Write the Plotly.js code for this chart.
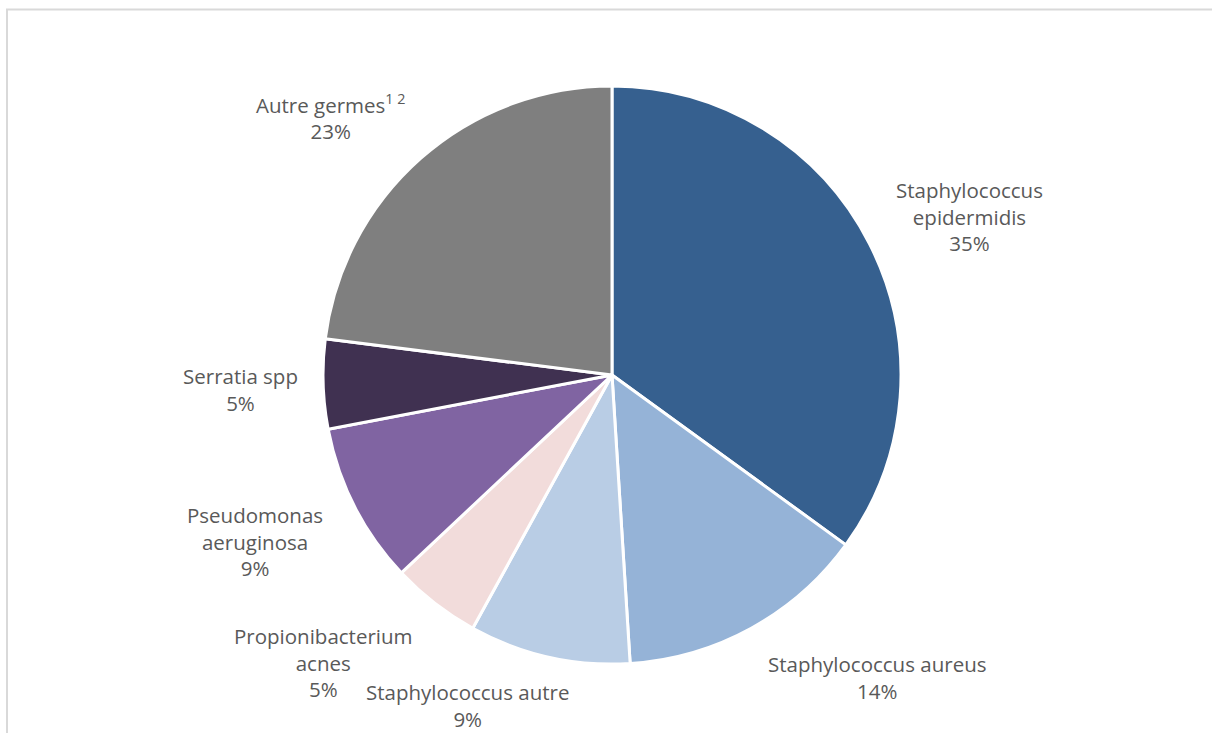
<!DOCTYPE html>
<html>
<head>
<meta charset="utf-8">
<script src="https://cdn.plot.ly/plotly-3.0.1.min.js"></script>
<style>html,body{margin:0;padding:0;background:#fff;}#chart{width:1212px;height:733px;}</style>
</head>
<body>
<div id="chart"></div>
<script>
// ---- data ----
var categories = [
  "Staphylococcus<br>epidermidis",
  "Staphylococcus aureus",
  "Staphylococcus autre",
  "Propionibacterium<br>acnes",
  "Pseudomonas<br>aeruginosa",
  "Serratia spp",
  "Autre germes<sup>1 2</sup>"
];
var values = [35, 14, 9, 5, 9, 5, 23];
var colors = ["#36608F", "#95B3D7", "#B9CDE5", "#F2DCDB", "#8064A2", "#403151", "#7F7F7F"];

// ---- layout helpers ----
var W = 1212, H = 733;
function px(x) { return x / W; }
function py(y) { return 1 - y / H; }

// label centres (pixels), one per category
var labelPos = [
  [969, 217], [877, 677], [467, 705], [323, 662], [255, 541], [240, 389], [330, 117]
];

var total = values.reduce(function (a, b) { return a + b; }, 0);
var annotations = categories.map(function (c, i) {
  return {
    xref: "paper", yref: "paper",
    x: px(labelPos[i][0]), y: py(labelPos[i][1]),
    xanchor: "center", yanchor: "middle",
    text: c + "<br>" + Math.round(values[i] / total * 100) + "%",
    showarrow: false,
    align: "center",
    font: { family: "Open Sans, sans-serif", size: 20.5, color: "#595959" }
  };
});

var trace = {
  type: "pie",
  labels: categories,
  values: values,
  sort: false,
  direction: "clockwise",
  rotation: 0,
  textinfo: "none",
  hoverinfo: "label+percent",
  marker: { colors: colors, line: { color: "#ffffff", width: 3 } },
  domain: { x: [px(323), px(901)], y: [py(664), py(86)] },
  showlegend: false
};

var layout = {
  width: W, height: H,
  margin: { l: 0, r: 0, t: 0, b: 0 },
  paper_bgcolor: "#ffffff",
  showlegend: false,
  annotations: annotations,
  shapes: [
    { type: "line", xref: "paper", yref: "paper", x0: px(7), x1: px(7), y0: 0, y1: py(9), line: { color: "#d9d9d9", width: 2 } },
    { type: "line", xref: "paper", yref: "paper", x0: px(6), x1: 1, y0: py(9.5), y1: py(9.5), line: { color: "#d9d9d9", width: 2 } }
  ]
};

Plotly.newPlot("chart", [trace], layout, { displayModeBar: false, staticPlot: true });
</script>
</body>
</html>
